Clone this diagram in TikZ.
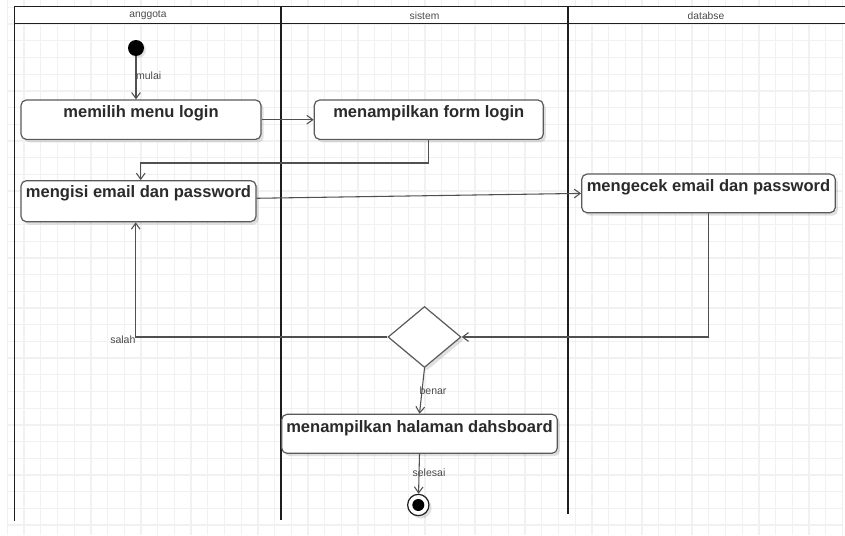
\documentclass[tikz,border=0pt]{standalone}
\usepackage{fontspec}
\setmainfont{Liberation Sans}
\usetikzlibrary{arrows.meta,shapes.geometric,shadows,calc}

\definecolor{lanecol}{HTML}{1E1E1E}
\definecolor{edgecol}{HTML}{505050}
\definecolor{boxline}{HTML}{5A5A5A}
\definecolor{boxtext}{HTML}{2A2A2A}
\definecolor{labeltext}{HTML}{4A4A4A}
\definecolor{gridcol}{HTML}{F1F1F1}

\begin{document}
\begin{tikzpicture}[x=0.75pt,y=-0.75pt,
  softshadow/.style={drop shadow={shadow xshift=2pt, shadow yshift=-2.2pt, fill=black, opacity=0.12}},
  actbox/.style={draw=boxline, line width=0.9pt, fill=white, rounded corners=4pt,
    inner sep=0pt, softshadow},
  acttext/.style={anchor=base, text=boxtext, inner sep=0pt,
    font=\fontsize{12.4}{14}\selectfont\bfseries},
  flow/.style={draw=edgecol, line width=0.8pt,
    -{Straight Barb[length=4.5pt,width=6.5pt]}},
  edgelabel/.style={text=labeltext, inner sep=0pt, font=\fontsize{7.9}{9}\selectfont},
  lanelabel/.style={text=lanecol!80, inner sep=0pt, font=\fontsize{7.7}{9}\selectfont},
  lane/.style={draw=lanecol, line width=1.2pt}
]
\useasboundingbox[fill=white] (0,0) rectangle (845,535);

% background grid
\foreach \i in {0,...,50}
  \draw[gridcol, line width=1pt] ({7.4+16.7*\i},0) -- ({7.4+16.7*\i},535);
\foreach \j in {0,...,31}
  \draw[gridcol, line width=1pt] (7.4,{7.4+16.7*\j}) -- (843.4,{7.4+16.7*\j});

% swimlanes
\fill[white] (14.5,6.5) rectangle (845,23.7);
\draw[lane] (14.5,520.5) -- (14.5,6.5) -- (845,6.5);
\draw[lane] (14.5,23.7) -- (845,23.7);
\draw[lane] (281,6.5) -- (281,520);
\draw[lane] (568,6.5) -- (568,514);
\node[lanelabel] (laneA) at (148,15.5) {anggota};
\node[lanelabel] (laneB) at (424.5,15.5) {sistem};
\node[lanelabel] (laneC) at (706,15.5) {databse};

% start and end
\node[circle, fill=black, minimum size=12pt, inner sep=0pt,
  drop shadow={shadow xshift=1.5pt, shadow yshift=-1.5pt, fill=black, opacity=0.1}]
  (start) at (136,48) {};
\node[circle, draw=lanecol, line width=0.9pt, fill=white, minimum size=16pt,
  inner sep=0pt, softshadow] (finish) at (418.3,505) {};
\node[circle, fill=black, minimum size=9pt, inner sep=0pt] (finishdot) at (finish) {};

% activities
\node[actbox, minimum width=180pt, minimum height=29.5pt] (memilih) at (141,119.7) {};
\node[acttext] (memilihT) at ($(memilih.north)+(0,18.5)$) {memilih menu login};

\node[actbox, minimum width=171.75pt, minimum height=29.5pt] (form) at (428.8,119.7) {};
\node[acttext] (formT) at ($(form.north)+(0,18.5)$) {menampilkan form login};

\node[actbox, minimum width=176.25pt, minimum height=30.75pt] (mengisi) at (138.5,201.2) {};
\node[acttext] (mengisiT) at ($(mengisi.north)+(0,17.8)$) {mengisi email dan password};

\node[actbox, minimum width=190.2pt, minimum height=29pt] (mengecek) at (708.5,193.4) {};
\node[acttext] (mengecekT) at ($(mengecek.north)+(0,18.5)$) {mengecek email dan password};

\node[actbox, minimum width=206.7pt, minimum height=29.25pt] (dash) at (419.5,433.8) {};
\node[acttext] (dashT) at ($(dash.north)+(0,18.7)$) {menampilkan halaman dahsboard};

% decision
\node[diamond, draw=boxline, line width=0.9pt, fill=white, inner sep=0pt,
  minimum width=54.75pt, minimum height=45.75pt, softshadow] (dec) at (424.5,337) {};

% flows
\draw[flow] (start) -- (start |- memilih.north);
\node[edgelabel] (lblmulai) at (148.7,75.7) {mulai};

\draw[flow] (memilih.east) -- (form.west);

\coordinate (bendA) at (140.7,163);
\draw[flow] (form.south) |- (bendA) -- (bendA |- mengisi.north);

\draw[flow] ([yshift=2.2pt]mengisi.east) -- (mengecek.west);

\draw[flow] (mengecek.south) |- (dec.east);

\coordinate (bendB) at (135.7,337);
\draw[flow] (dec.west) -- (bendB) -- (bendB |- mengisi.south);
\node[edgelabel, anchor=east] (lblsalah) at (135.7,340) {salah};

\draw[flow] (dec.south) -- (dash.north);
\node[edgelabel] (lblbenar) at (433,391) {benar};

\draw[flow] (dash.south) -- (finish);
\node[edgelabel] (lblselesai) at (429,472.7) {selesai};

\end{tikzpicture}
\end{document}
